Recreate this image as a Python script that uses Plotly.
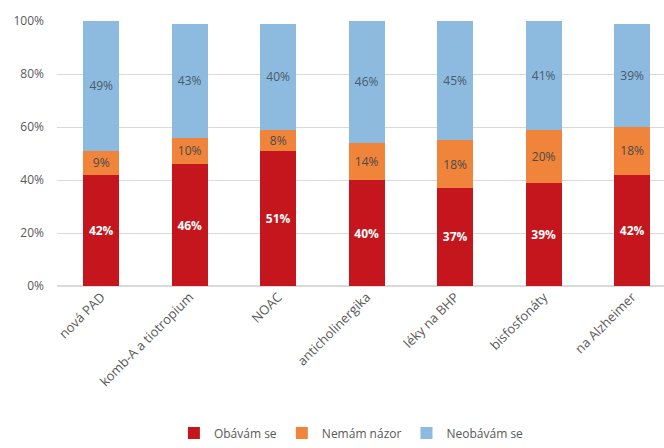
import plotly.graph_objects as go

categories = ["nová PAD", "komb-A a tiotropium", "NOAC", "anticholinergika",
              "léky na BHP", "bisfosfonáty", "na Alzheimer"]
obavam = [42, 46, 51, 40, 37, 39, 42]
nemam = [9, 10, 8, 14, 18, 20, 18]
neobavam = [49, 43, 40, 46, 45, 41, 39]
series_names = ["Obávám se", "Nemám názor", "Neobávám se"]
colors = ["#C4161C", "#F0843A", "#8DBBE0"]
text_colors = ["#FFFFFF", "#4A4A4A", "#4A5A6A"]

fig = go.Figure()
for i, (name, vals, col, tcol) in enumerate(zip(series_names, [obavam, nemam, neobavam], colors, text_colors)):
    fig.add_trace(go.Bar(
        x=categories,
        y=[v / 100 for v in vals],
        name=name,
        marker=dict(color=col, line=dict(width=0)),
        text=[f"<b>{v}%</b>" if i == 0 else f"{v}%" for v in vals],
        textposition="inside",
        insidetextanchor="middle",
        textangle=0,
        textfont=dict(color=tcol, size=12, family="Open Sans"),
        constraintext="none",
    ))

fig.update_layout(
    barmode="stack",
    bargap=0.59,
    width=664,
    height=448,
    margin=dict(l=57, r=0, t=21, b=155),
    paper_bgcolor="white",
    plot_bgcolor="white",
    font=dict(family="Open Sans", size=12, color="#595959"),
    showlegend=True,
    legend=dict(
        orientation="h",
        x=0.485, xanchor="center",
        y=-0.5, yanchor="top",
        font=dict(size=12, color="#595959"),
        traceorder="normal",
        itemwidth=30,
    ),
    uniformtext=dict(minsize=10, mode="show"),
)
fig.update_xaxes(
    range=[-0.5, 6.36],
    tickangle=-45,
    tickfont=dict(size=13, color="#595959"),
    showgrid=False,
    showline=False,
    ticks="",
)
fig.update_yaxes(
    range=[0, 1],
    tickvals=[0, 0.2, 0.4, 0.6, 0.8, 1.0],
    ticktext=["0%", "20%", "40%", "60%", "80%", "100%"],
    tickfont=dict(size=12, color="#595959"),
    showgrid=True,
    gridcolor="#D9D9D9",
    gridwidth=1,
    zeroline=True,
    zerolinecolor="#D9D9D9",
    ticks="",
    ticklabelstandoff=12,
)

fig.write_html("out.html")
